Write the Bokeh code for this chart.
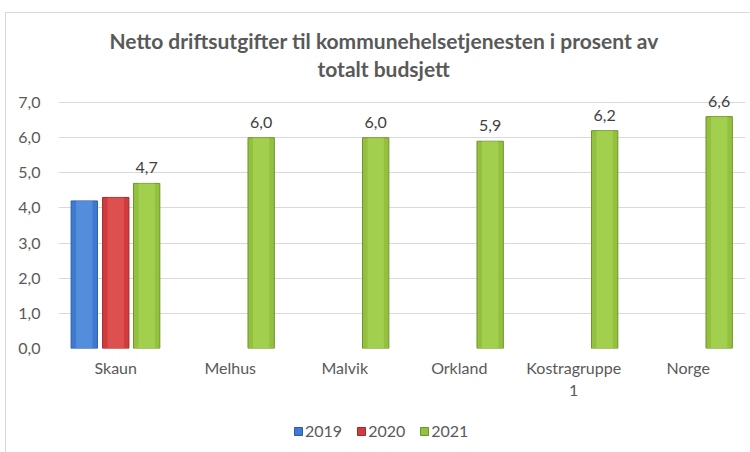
from bokeh.plotting import figure
from bokeh.layouts import column
from bokeh.models import ColumnDataSource, FactorRange, FixedTicker, Title, Legend, LegendItem
from bokeh.transform import dodge
from bokeh.embed import file_html
from bokeh.resources import INLINE
from bokeh.core.properties import value

categories = ["Skaun", "Melhus", "Malvik", "Orkland", "Kostragruppe\n1", "Norge"]
v2019 = [4.2, float("nan"), float("nan"), float("nan"), float("nan"), float("nan")]
v2020 = [4.3, float("nan"), float("nan"), float("nan"), float("nan"), float("nan")]
v2021 = [4.7, 6.0, 6.0, 5.9, 6.2, 6.6]
labels2021 = ["4,7", "6,0", "6,0", "5,9", "6,2", "6,6"]
yticks = [0, 1, 2, 3, 4, 5, 6, 7]
ytick_labels = ["0,0", "1,0", "2,0", "3,0", "4,0", "5,0", "6,0", "7,0"]
title_lines = ["Netto driftsutgifter til kommunehelsetjenesten i prosent av", "totalt budsjett"]
years = ["2019", "2020", "2021"]

FONT = "Lato"
GRAY = "#595959"
FS = "16px"

src = ColumnDataSource(dict(cat=categories, v2019=v2019, v2020=v2020, v2021=v2021, lab=labels2021))

p = figure(x_range=FactorRange(*categories), y_range=(0, 7.6), width=745, height=400,
           output_backend="svg", toolbar_location=None,
           min_border_left=52, min_border_right=6, min_border_top=68, min_border_bottom=65)
p.outline_line_color = None

colors = {"2019": "#3d7ad0", "2020": "#d23b3b", "2021": "#93c13e"}
edge = {"2019": "#2c5d9e", "2020": "#9e2b2b", "2021": "#6e922c"}
hl = {"2019": "#5d95e0", "2020": "#e35a5a", "2021": "#a9d457"}
offs = {"2019": -0.275, "2020": 0.0, "2021": 0.27}
W = 0.23
for yr in years:
    p.vbar(x=dodge("cat", offs[yr], range=p.x_range), top="v" + yr, width=W, source=src,
           fill_color=colors[yr], line_color=edge[yr], line_width=1)
    p.vbar(x=dodge("cat", offs[yr], range=p.x_range), top="v" + yr, width=W * 0.62, source=src,
           fill_color=hl[yr], line_color=None, fill_alpha=0.7)

p.text(x=dodge("cat", offs["2021"], range=p.x_range), y="v2021", text="lab", source=src,
       text_align="center", text_baseline="bottom", y_offset=-10,
       text_font=value(FONT), text_font_size=FS, text_color="#404040")

p.yaxis.ticker = FixedTicker(ticks=yticks)
p.yaxis.major_label_overrides = {t: s for t, s in zip(yticks, ytick_labels)}
for ax in (p.xaxis, p.yaxis):
    ax.axis_line_color = None
    ax.major_tick_line_color = None
    ax.minor_tick_line_color = None
    ax.major_label_text_font = FONT
    ax.major_label_text_font_size = FS
    ax.major_label_text_color = GRAY
p.xaxis.major_label_standoff = 3
p.yaxis.major_label_standoff = 12
p.xgrid.grid_line_color = None
p.ygrid.grid_line_color = "#d9d9d9"
p.ygrid.ticker = FixedTicker(ticks=yticks)

p.title.text = title_lines[0]
p.title.align = "left"
p.title.offset = 51
p.title.text_font = FONT
p.title.text_font_style = "bold"
p.title.text_font_size = "21px"
p.title.text_color = GRAY
p.title.standoff = 0
p.add_layout(Title(text=title_lines[1], align="left", offset=259, text_font=FONT,
                   text_font_style="bold", text_font_size="21px", text_color=GRAY,
                   standoff=2), "above")

# legend strip below the chart (renderers sit outside its visible y range)
lf = figure(width=745, height=40, x_range=FactorRange(*categories), y_range=(100, 101),
            output_backend="svg", toolbar_location=None, min_border=0)
lf.axis.visible = False
lf.grid.visible = False
lf.outline_line_color = None
items = []
for yr in years:
    r = lf.vbar(x="cat", top="v" + yr, width=0.2, source=src, fill_color=colors[yr], line_color=edge[yr])
    items.append(LegendItem(label=yr, renderers=[r]))
legend = Legend(items=items, orientation="horizontal", location=(235, 13), border_line_color=None,
                background_fill_alpha=0, label_text_font=FONT, label_text_font_size=FS,
                label_text_color=GRAY, glyph_width=10, glyph_height=10, spacing=14,
                label_standoff=2, padding=2, margin=0)
lf.add_layout(legend, "center")

layout = column(p, lf, spacing=0)
layout.styles = {"border": "1px solid #d9d9d9", "margin-left": "5px", "margin-top": "12px"}
open("out.html", "w").write(file_html(layout, INLINE))
